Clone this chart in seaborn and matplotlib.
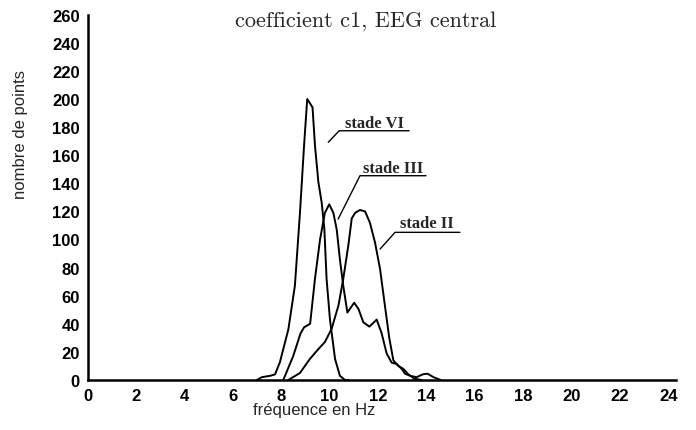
import matplotlib
matplotlib.use("Agg")
import matplotlib.pyplot as plt
import seaborn as sns
import pandas as pd

# ---- data ----
freq_vi = [7.0, 7.2, 7.55, 7.75, 7.95, 8.3, 8.57, 8.78, 8.95, 9.08, 9.3, 9.4,
           9.54, 9.68, 9.79, 9.88, 10.02, 10.23, 10.43, 10.64, 10.8]
pts_vi = [0, 2, 3, 4, 12.6, 36, 67, 119, 167, 200, 194, 167,
          141, 126, 107, 72, 43, 15, 3, 0, 0]

freq_iii = [8.09, 8.5, 8.8, 8.95, 9.2, 9.4, 9.61, 9.81, 9.99, 10.16, 10.3, 10.43,
            10.57, 10.74, 10.9, 11.02, 11.2, 11.4, 11.65, 11.95, 12.15, 12.36,
            12.57, 12.78, 12.98, 13.12, 13.33, 13.6, 13.85, 14.05, 14.3, 14.6]
pts_iii = [0, 17, 33, 37.5, 40, 72, 100, 119, 125, 119, 107, 86,
           67, 48, 52, 55, 50.5, 41, 38, 43, 33.6, 19,
           12.3, 11.4, 8, 4.5, 3, 2, 4, 4.5, 2, 0]

freq_ii = [8.3, 8.78, 9.19, 9.54, 9.81, 10.09, 10.37, 10.57, 10.78, 10.92, 11.06,
           11.26, 11.47, 11.67, 11.88, 12.09, 12.29, 12.47, 12.64, 12.84, 13.05,
           13.26, 13.5, 13.8]
pts_ii = [0, 5, 15, 22, 27, 36.5, 53, 72, 96, 115, 119,
          121, 120, 112, 98, 79, 53, 30, 14, 10, 8,
          4, 1, 0]

series_names = ["stade VI", "stade III", "stade II"]
# (leader start x,y), (underline left x,y), underline right x, (text x, text baseline y)
label_leader = [(9.95, 169.2), (10.36, 114.6), (12.09, 93.2)]
label_under = [(10.40, 177.4), (11.26, 145.4), (12.71, 105.1)]
label_under_end = [13.29, 13.99, 15.39]
label_text = [(10.64, 180.1), (11.38, 148.0), (12.91, 108.7)]

x_ticks = list(range(0, 25, 2))
y_ticks = list(range(0, 261, 20))

df = pd.concat([
    pd.DataFrame({"f": freq_vi, "n": pts_vi, "s": "stade VI"}),
    pd.DataFrame({"f": freq_iii, "n": pts_iii, "s": "stade III"}),
    pd.DataFrame({"f": freq_ii, "n": pts_ii, "s": "stade II"}),
], ignore_index=True)

sns.set_style("white")
fig = plt.figure(figsize=(6.96, 4.31), dpi=100)
ax = fig.add_axes([87.5 / 696, 1 - 381 / 431, (676 - 87.5) / 696, (381 - 15.7) / 431])

sns.lineplot(data=df, x="f", y="n", hue="s", units="s", estimator=None,
             palette={k: "black" for k in series_names}, legend=False,
             linewidth=1.4, ax=ax, sort=False)

ax.set_xlim(0, 24.32)
ax.set_ylim(0, 260)
ax.set_xticks(x_ticks)
ax.set_yticks(y_ticks)
ax.set_xlabel("")
ax.set_ylabel("")
for s in ["top", "right"]:
    ax.spines[s].set_visible(False)
for s in ["left", "bottom"]:
    ax.spines[s].set_linewidth(1.8)
    ax.spines[s].set_color("black")
ax.tick_params(direction="out", length=4, width=1.2, colors="black")
ax.tick_params(axis="y", pad=1.5)
ax.tick_params(axis="x", pad=2)
for lab in ax.get_xticklabels() + ax.get_yticklabels():
    lab.set_fontfamily("Liberation Sans")
    lab.set_fontweight("bold")
    lab.set_fontsize(12)

# stage labels with underline and leader line
for name, lead, und, und_end, txt in zip(series_names, label_leader, label_under,
                                         label_under_end, label_text):
    ax.plot([lead[0], und[0], und_end], [lead[1], und[1], und[1]],
            color="black", linewidth=1.0)
    ax.text(txt[0], txt[1], name, fontfamily="Liberation Serif", fontweight="bold",
            fontsize=12, va="baseline", ha="left")

fig.text(365.5 / 696, 1 - 26.7 / 431, "coefficient c1, EEG central",
         fontfamily="cmr10", fontsize=16, ha="center", va="baseline")
fig.text(21 / 696, 1 - 135 / 431, "nombre de points", rotation=90,
         fontfamily="Liberation Sans", fontsize=12, ha="center", va="center")
fig.text(314 / 696, 1 - 411 / 431, "fréquence en Hz",
         fontfamily="Liberation Sans", fontsize=12, ha="center", va="center")

fig.savefig("out.png", dpi=100, facecolor="white")
